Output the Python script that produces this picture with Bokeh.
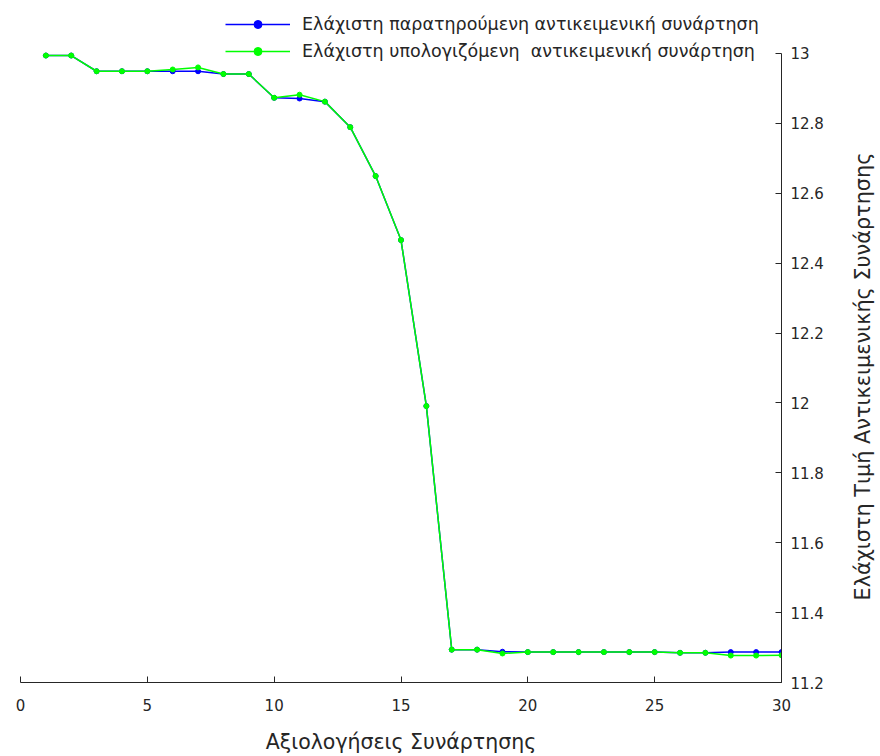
import math
from bokeh.plotting import figure
from bokeh.layouts import row
from bokeh.models import Range1d, FixedTicker, CustomJSTickFormatter, Legend, LegendItem, ColumnDataSource, Label
from bokeh.embed import file_html
from bokeh.resources import INLINE

# ---- data ----
evaluations = list(range(1, 31))
observed_min = [12.994, 12.994, 12.949, 12.949, 12.949, 12.949, 12.949, 12.941, 12.941, 12.873,
                12.871, 12.862, 12.789, 12.649, 12.466, 11.991, 11.294, 11.294, 11.288, 11.287,
                11.287, 11.287, 11.287, 11.287, 11.287, 11.285, 11.285, 11.287, 11.287, 11.287]
computed_min = [12.994, 12.994, 12.949, 12.949, 12.949, 12.954, 12.960, 12.941, 12.941, 12.873,
                12.882, 12.862, 12.789, 12.649, 12.466, 11.991, 11.294, 11.294, 11.283, 11.287,
                11.287, 11.287, 11.287, 11.287, 11.287, 11.285, 11.285, 11.277, 11.277, 11.278]
xticks = [0, 5, 10, 15, 20, 25, 30]
yticks = [11.2, 11.4, 11.6, 11.8, 12.0, 12.2, 12.4, 12.6, 12.8, 13.0]
y_min, y_max = 11.2, 13.0
label_observed = "Ελάχιστη παρατηρούμενη αντικειμενική συνάρτηση"
label_computed = "Ελάχιστη υπολογιζόμενη  αντικειμενική συνάρτηση"
x_title = "Αξιολογήσεις Συνάρτησης"
y_title = "Ελάχιστη Τιμή Αντικειμενικής Συνάρτησης"

FONT = "DejaVu Sans"
TXT = "#262626"

MAIN_W, SIDE_W, H = 845, 35, 756
# frame spans from the figure top; the axis data region starts 53px below it
FRAME_H = 683
TOP_GAP = 53
y_top = y_max + (y_max - y_min) * TOP_GAP / (FRAME_H - TOP_GAP)

p = figure(width=MAIN_W, height=H, output_backend="svg", toolbar_location=None,
           x_range=Range1d(0, 30), y_range=Range1d(y_min, y_top),
           y_axis_location="right",
           min_border_left=20, min_border_top=0, min_border_right=64, min_border_bottom=H - FRAME_H)
p.outline_line_color = None
p.xgrid.visible = False
p.ygrid.visible = False
p.background_fill_color = "white"

src = ColumnDataSource(dict(x=evaluations, obs=observed_min, comp=computed_min))

l1 = p.line("x", "obs", source=src, line_color="#0000ff", line_width=1.5)
s1 = p.scatter("x", "obs", source=src, size=5, fill_color="#0000ff", line_color="#0000ff")
l2 = p.line("x", "comp", source=src, line_color="#00ff00", line_width=1.5)
s2 = p.scatter("x", "comp", source=src, size=5, fill_color="#00ff00", line_color="#00ff00")

for ax in (p.xaxis[0], p.yaxis[0]):
    ax.axis_line_color = TXT
    ax.axis_line_width = 1
    ax.major_tick_line_color = TXT
    ax.major_tick_in = 6
    ax.major_tick_out = 0
    ax.minor_tick_line_color = None
    ax.major_label_text_font = FONT
    ax.major_label_text_font_size = "15px"
    ax.major_label_text_color = TXT
    ax.axis_label_text_font = FONT
    ax.axis_label_text_font_size = "20.5px"
    ax.axis_label_text_font_style = "normal"
    ax.axis_label_text_color = TXT

xa = p.xaxis[0]
xa.ticker = FixedTicker(ticks=xticks)
xa.axis_label = x_title
xa.major_label_standoff = 16
xa.axis_label_standoff = 16

ya = p.yaxis[0]
ya.ticker = FixedTicker(ticks=yticks)
ya.bounds = (y_min, y_max)
ya.formatter = CustomJSTickFormatter(code="return tick.toFixed(1).replace(/\\.0$/, '');")
ya.major_label_standoff = 9

legend = Legend(items=[LegendItem(label=label_observed, renderers=[l1, s1]),
                       LegendItem(label=label_computed, renderers=[l2, s2])],
                location=(205, 621), padding=0, margin=0, spacing=7,
                glyph_width=65, glyph_height=20, label_height=20, label_standoff=12,
                label_text_font=FONT, label_text_font_size="17.5px", label_text_color=TXT,
                border_line_alpha=0, background_fill_alpha=0)
p.add_layout(legend)

# narrow side panel holding the y-axis title, reading bottom-to-top
side = figure(width=SIDE_W, height=H, output_backend="svg", toolbar_location=None,
              x_range=Range1d(0, 1), y_range=Range1d(0, 1),
              min_border=0)
side.axis.visible = False
side.grid.visible = False
side.outline_line_color = None
side.add_layout(Label(x=17, y=H - 450, x_units="screen", y_units="screen", text=y_title,
                      angle=math.pi / 2, text_align="center", text_baseline="middle",
                      text_font=FONT, text_font_size="20.8px", text_color=TXT))

layout = row(p, side, spacing=0)
open("out.html", "w").write(file_html(layout, INLINE))
